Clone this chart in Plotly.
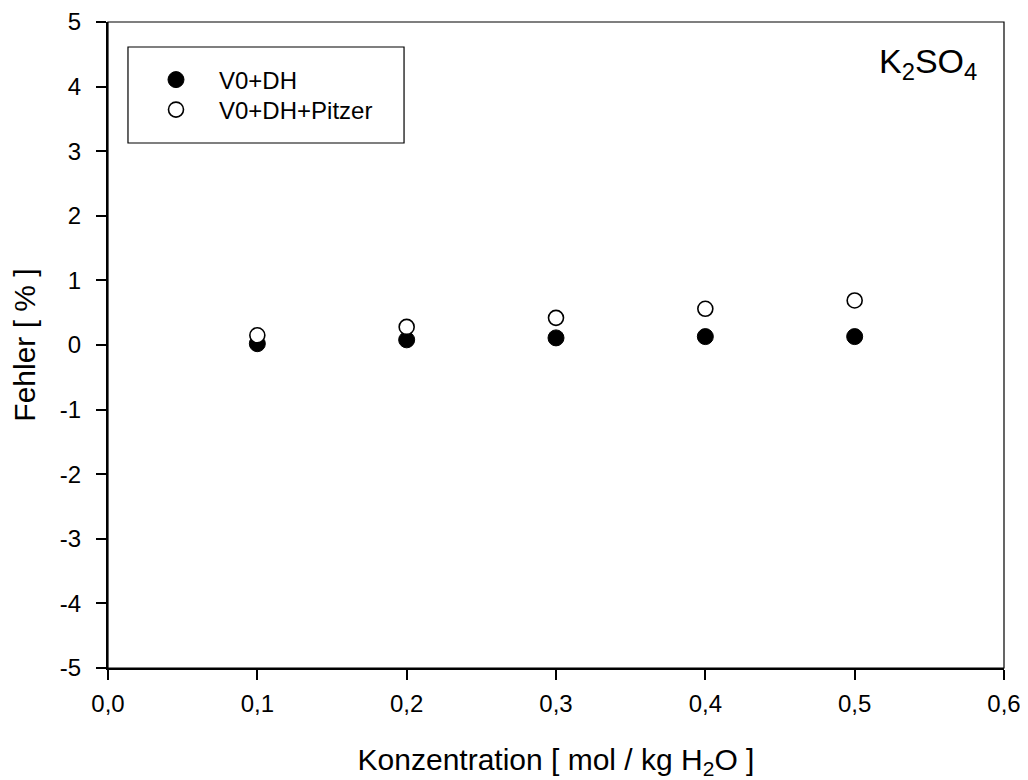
import plotly.graph_objects as go

conc = [0.1, 0.2, 0.3, 0.4, 0.5]
v0_dh = [0.02, 0.08, 0.11, 0.13, 0.13]
v0_dh_pitzer = [0.15, 0.28, 0.42, 0.56, 0.69]
series_names = ["V0+DH", "V0+DH+Pitzer"]
x_ticks = [0.0, 0.1, 0.2, 0.3, 0.4, 0.5, 0.6]
x_ticklabels = ["0,0", "0,1", "0,2", "0,3", "0,4", "0,5", "0,6"]
y_ticks = [-5, -4, -3, -2, -1, 0, 1, 2, 3, 4, 5]
y_ticklabels = ["-5", "-4", "-3", "-2", "-1", "0", "1", "2", "3", "4", "5"]

FONT = "Liberation Sans, Arial, sans-serif"

fig = go.Figure()
fig.add_trace(go.Scatter(
    x=conc, y=v0_dh, mode="markers", name=series_names[0], legend="legend",
    marker=dict(symbol="circle", size=16, color="black",
                line=dict(color="black", width=1)),
))
fig.add_trace(go.Scatter(
    x=conc, y=v0_dh_pitzer, mode="markers", name=series_names[1], legend="legend2",
    marker=dict(symbol="circle", size=15, color="white",
                line=dict(color="black", width=1.6)),
))

axis_common = dict(
    showgrid=False, zeroline=False, showline=True, linecolor="black",
    linewidth=2, ticks="outside", ticklen=10, tickwidth=1.5,
    tickcolor="black", mirror=False, automargin=False,
    ticklabeloverflow="allow",
    tickfont=dict(family=FONT, size=24, color="black"),
)

legend_common = dict(
    xanchor="left", yanchor="middle",
    bgcolor="rgba(0,0,0,0)", borderwidth=0, itemwidth=76,
    font=dict(family=FONT, size=24, color="black"),
)

# page body has an 8px margin: figure is shifted by 8px, so size/margins compensate
fig.update_layout(
    width=1020, height=772,
    margin=dict(l=100, r=24, t=14, b=112, autoexpand=False),
    paper_bgcolor="white", plot_bgcolor="white",
    font=dict(family=FONT, color="black"),
    xaxis=dict(
        range=[0, 0.6], tickvals=x_ticks, ticktext=x_ticklabels,
        title=dict(text="Konzentration [ mol / kg H<sub>2</sub>O ]",
                   font=dict(family=FONT, size=30, color="black"),
                   standoff=34),
        ticklabelstandoff=3,
        **axis_common,
    ),
    yaxis=dict(
        range=[-5, 5], tickvals=y_ticks, ticktext=y_ticklabels,
        title=dict(text="Fehler [ % ]",
                   font=dict(family=FONT, size=30, color="black"),
                   standoff=20),
        ticklabelstandoff=10,
        **axis_common,
    ),
    showlegend=True,
    legend=dict(x=0.0279, y=0.9102, **legend_common),
    legend2=dict(x=0.0279, y=0.8638, **legend_common),
    shapes=[
        dict(type="rect", xref="paper", yref="paper", x0=0, x1=1, y0=0, y1=1,
             line=dict(color="black", width=1.2), fillcolor="rgba(0,0,0,0)",
             layer="above"),
        dict(type="rect", xref="paper", yref="paper",
             x0=0.0223, x1=0.3304, y0=0.8127, y1=0.9613,
             line=dict(color="black", width=1.2), fillcolor="rgba(0,0,0,0)"),
    ],
    annotations=[
        dict(text="K<sub>2</sub>SO<sub>4</sub>", xref="paper", yref="paper",
             x=0.972, y=0.972, xanchor="right", yanchor="top",
             showarrow=False, font=dict(family=FONT, size=34, color="black")),
    ],
)

fig.write_html("out.html")
